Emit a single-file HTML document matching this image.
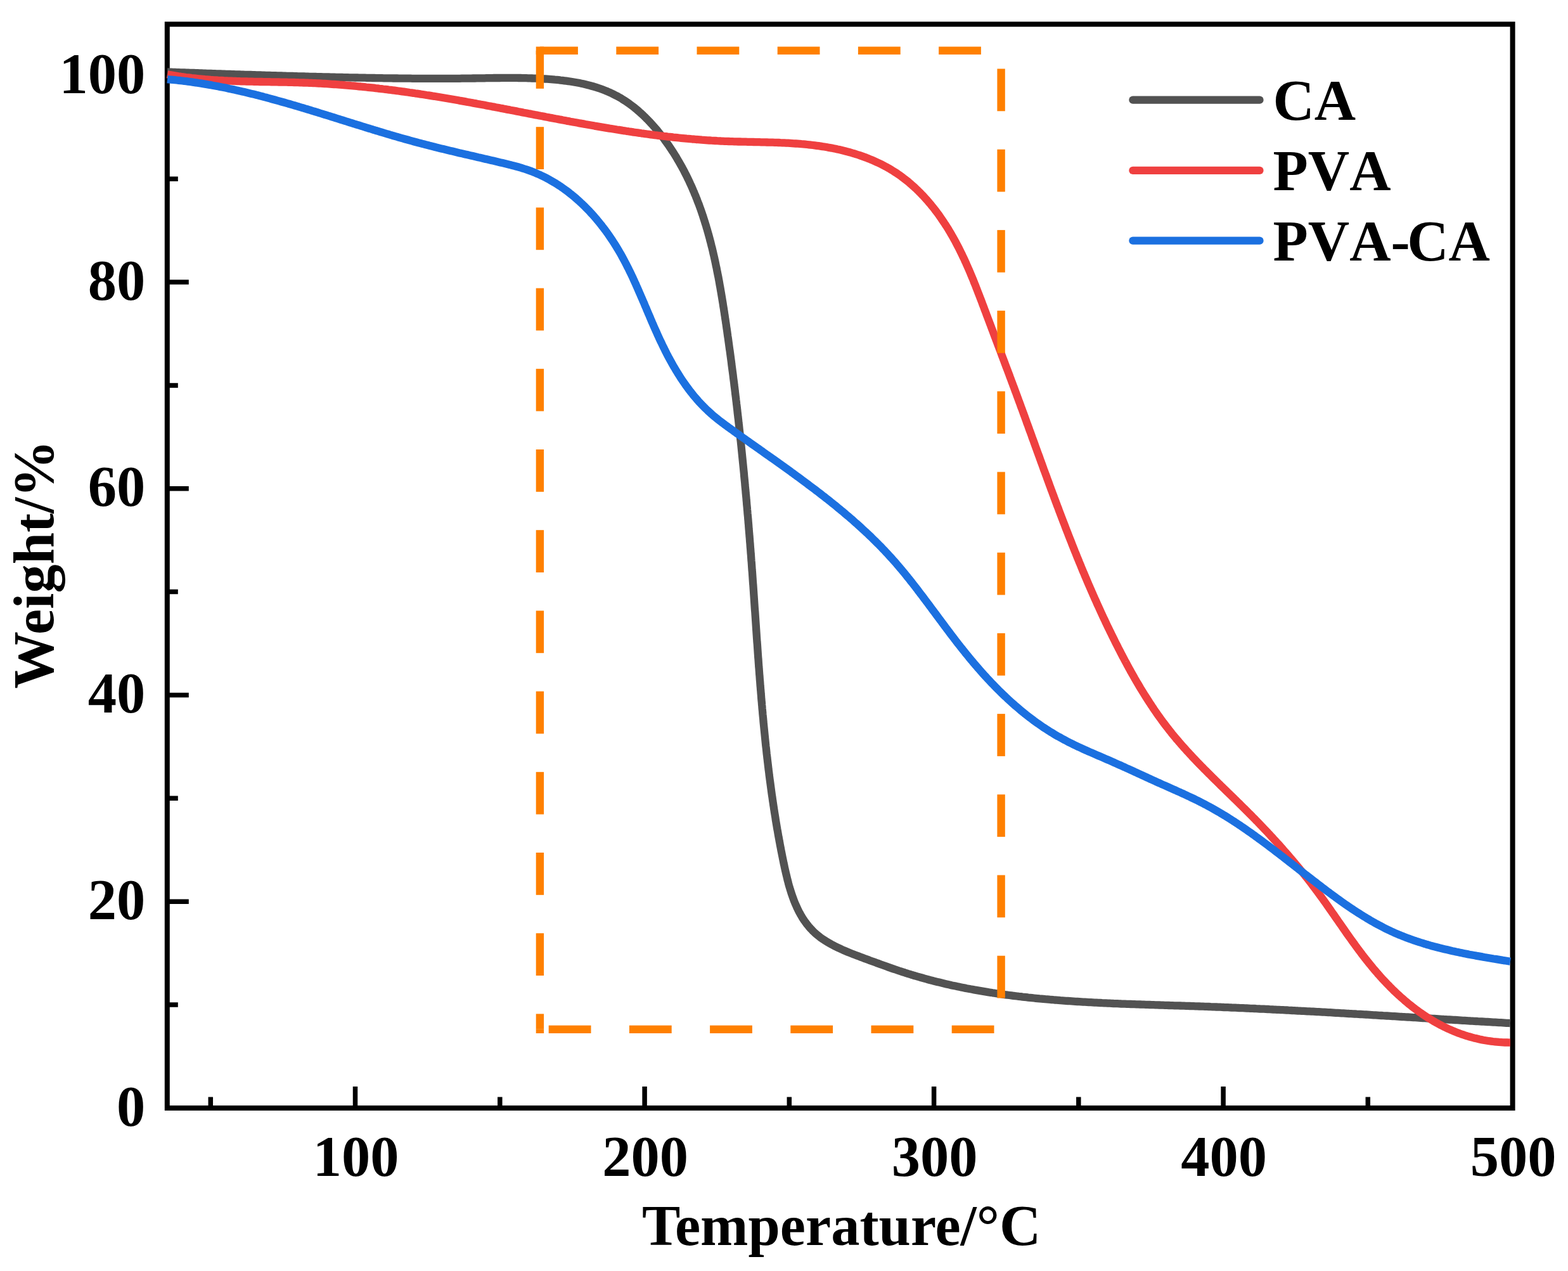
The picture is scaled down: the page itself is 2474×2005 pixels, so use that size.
<!DOCTYPE html>
<html><head><meta charset="utf-8"><title>TGA</title>
<style>html,body{margin:0;padding:0;background:#fff;} svg{display:block;}</style>
</head><body>
<svg width="2474" height="2005" viewBox="0 0 2474 2005">
<rect width="2474" height="2005" fill="#fff"/>
<rect x="263.8" y="38.2" width="2122.7999999999997" height="1709.7" fill="none" stroke="#000" stroke-width="8"/>
<path d="M560.5,1747.9 V1713.9 M1017.1,1747.9 V1713.9 M1473.6,1747.9 V1713.9 M1930.1,1747.9 V1713.9 M332.3,1747.9 V1730.4 M788.8,1747.9 V1730.4 M1245.3,1747.9 V1730.4 M1701.8,1747.9 V1730.4 M2158.3,1747.9 V1730.4 M263.8,1422.2 H297.8 M263.8,1096.5 H297.8 M263.8,770.7 H297.8 M263.8,445.0 H297.8 M263.8,119.3 H297.8 M263.8,1585.0 H280.8 M263.8,1259.3 H280.8 M263.8,933.6 H280.8 M263.8,607.9 H280.8 M263.8,282.2 H280.8" stroke="#000" stroke-width="7.5" fill="none"/>
<g fill="none" stroke-linejoin="round" stroke-linecap="butt" stroke-width="12.3">
<path stroke="#525252" d="M264.0,113.5 L267.0,113.6 L270.0,113.7 L273.0,113.9 L276.0,114.0 L279.0,114.1 L282.0,114.2 L285.0,114.3 L288.0,114.4 L291.0,114.5 L294.0,114.6 L297.0,114.7 L299.9,114.8 L302.9,114.9 L305.9,115.0 L308.9,115.1 L311.9,115.2 L314.9,115.3 L317.9,115.4 L320.9,115.6 L323.9,115.7 L326.9,115.8 L329.9,115.9 L332.9,116.0 L335.9,116.1 L338.9,116.2 L341.9,116.3 L344.9,116.4 L347.9,116.5 L350.9,116.6 L353.9,116.7 L356.9,116.8 L359.9,116.9 L362.9,117.0 L365.9,117.1 L368.9,117.2 L371.9,117.3 L374.9,117.4 L377.8,117.5 L380.8,117.6 L383.8,117.7 L386.8,117.8 L389.8,117.9 L392.8,117.9 L395.8,118.0 L398.8,118.1 L401.8,118.2 L404.8,118.3 L407.8,118.4 L410.8,118.5 L413.8,118.6 L416.8,118.7 L419.8,118.8 L422.8,118.9 L425.8,119.0 L428.8,119.1 L431.8,119.1 L434.8,119.2 L437.8,119.3 L440.8,119.4 L443.8,119.5 L446.8,119.6 L449.8,119.7 L452.8,119.8 L455.7,119.8 L458.7,119.9 L461.7,120.0 L464.7,120.1 L467.7,120.2 L470.7,120.3 L473.7,120.3 L476.7,120.4 L479.7,120.5 L482.7,120.6 L485.7,120.7 L488.7,120.8 L491.7,120.8 L494.7,120.9 L497.7,121.0 L500.7,121.1 L503.7,121.1 L506.7,121.2 L509.7,121.3 L512.7,121.4 L515.7,121.4 L518.7,121.5 L521.7,121.6 L524.7,121.7 L527.7,121.7 L530.7,121.8 L533.7,121.9 L536.7,121.9 L539.7,122.0 L542.7,122.1 L545.7,122.1 L548.7,122.2 L551.7,122.3 L554.7,122.3 L557.7,122.4 L560.7,122.5 L563.7,122.5 L566.7,122.6 L569.7,122.6 L572.7,122.7 L575.7,122.7 L578.7,122.8 L581.7,122.9 L584.7,122.9 L587.7,123.0 L590.7,123.0 L593.7,123.1 L596.7,123.1 L599.7,123.2 L602.6,123.2 L605.6,123.3 L608.6,123.3 L611.6,123.3 L614.6,123.4 L617.6,123.4 L620.6,123.5 L623.6,123.5 L626.6,123.5 L629.6,123.6 L632.6,123.6 L635.6,123.6 L638.6,123.7 L641.6,123.7 L644.6,123.7 L647.6,123.7 L650.6,123.8 L653.6,123.8 L656.6,123.8 L659.6,123.8 L662.6,123.8 L665.6,123.9 L668.6,123.9 L671.6,123.9 L674.6,123.9 L677.6,123.9 L680.6,123.9 L683.6,123.9 L686.6,123.9 L689.6,123.9 L692.6,123.9 L695.6,123.9 L698.6,123.9 L701.5,123.9 L704.5,123.9 L707.5,123.9 L710.5,123.9 L713.5,123.8 L716.5,123.8 L719.5,123.8 L722.5,123.8 L725.5,123.8 L728.5,123.7 L731.5,123.7 L734.5,123.7 L737.5,123.6 L740.5,123.6 L743.4,123.6 L746.4,123.5 L749.4,123.5 L752.4,123.4 L755.4,123.4 L758.4,123.3 L761.4,123.3 L764.4,123.3 L767.4,123.2 L770.4,123.2 L773.4,123.1 L776.3,123.1 L779.3,123.0 L782.3,123.0 L785.3,123.0 L788.3,123.0 L791.3,122.9 L794.3,122.9 L797.3,122.9 L800.3,122.9 L803.3,122.9 L806.3,122.9 L809.3,122.9 L812.3,122.9 L815.3,122.9 L818.3,123.0 L821.3,123.0 L824.3,123.1 L827.3,123.1 L830.3,123.2 L833.3,123.3 L836.3,123.4 L839.3,123.5 L842.3,123.6 L845.3,123.7 L848.3,123.8 L851.3,124.0 L854.3,124.1 L857.4,124.3 L860.4,124.5 L863.4,124.7 L866.4,124.9 L869.4,125.1 L872.5,125.4 L875.5,125.7 L878.5,125.9 L881.5,126.2 L884.5,126.6 L887.5,126.9 L890.5,127.3 L893.5,127.7 L896.5,128.1 L899.5,128.5 L902.5,129.0 L905.5,129.5 L908.4,130.0 L911.4,130.5 L914.3,131.1 L917.3,131.7 L920.2,132.3 L923.1,133.0 L926.0,133.7 L928.9,134.4 L931.8,135.2 L934.6,136.0 L937.5,136.8 L940.3,137.7 L943.2,138.6 L946.0,139.5 L948.8,140.5 L951.5,141.5 L954.3,142.6 L957.0,143.7 L959.7,144.9 L962.4,146.0 L965.1,147.3 L967.8,148.6 L970.4,149.9 L973.0,151.2 L975.6,152.7 L978.2,154.1 L980.7,155.6 L983.2,157.2 L985.7,158.8 L988.2,160.4 L990.7,162.1 L993.1,163.8 L995.5,165.6 L997.9,167.4 L1000.2,169.2 L1002.6,171.1 L1004.9,173.0 L1007.2,175.0 L1009.4,177.0 L1011.7,179.0 L1013.9,181.0 L1016.1,183.1 L1018.3,185.2 L1020.4,187.4 L1022.5,189.5 L1024.6,191.7 L1026.7,194.0 L1028.8,196.2 L1030.8,198.5 L1032.8,200.8 L1034.8,203.1 L1036.8,205.4 L1038.7,207.8 L1040.6,210.1 L1042.5,212.5 L1044.4,214.9 L1046.3,217.4 L1048.1,219.8 L1049.9,222.3 L1051.7,224.7 L1053.4,227.2 L1055.2,229.7 L1056.9,232.2 L1058.6,234.7 L1060.2,237.3 L1061.9,239.8 L1063.5,242.3 L1065.1,244.9 L1066.7,247.4 L1068.2,250.0 L1069.7,252.6 L1071.3,255.2 L1072.7,257.8 L1074.2,260.4 L1075.7,263.0 L1077.1,265.6 L1078.5,268.2 L1079.9,270.9 L1081.2,273.5 L1082.6,276.2 L1083.9,278.8 L1085.2,281.5 L1086.5,284.2 L1087.8,286.9 L1089.0,289.6 L1090.3,292.3 L1091.5,295.0 L1092.7,297.7 L1093.8,300.4 L1095.0,303.1 L1096.1,305.9 L1097.3,308.6 L1098.4,311.4 L1099.5,314.1 L1100.5,316.9 L1101.6,319.7 L1102.7,322.4 L1103.7,325.2 L1104.7,328.0 L1105.7,330.8 L1106.7,333.6 L1107.6,336.4 L1108.6,339.2 L1109.5,342.0 L1110.4,344.9 L1111.3,347.7 L1112.2,350.5 L1113.1,353.4 L1114.0,356.2 L1114.8,359.1 L1115.7,361.9 L1116.5,364.8 L1117.3,367.6 L1118.1,370.5 L1118.9,373.4 L1119.7,376.3 L1120.4,379.2 L1121.2,382.0 L1121.9,384.9 L1122.6,387.8 L1123.4,390.7 L1124.1,393.6 L1124.8,396.6 L1125.4,399.5 L1126.1,402.4 L1126.8,405.3 L1127.4,408.2 L1128.1,411.2 L1128.7,414.1 L1129.3,417.0 L1129.9,420.0 L1130.6,422.9 L1131.1,425.8 L1131.7,428.8 L1132.3,431.7 L1132.9,434.7 L1133.5,437.6 L1134.0,440.6 L1134.6,443.5 L1135.1,446.5 L1135.6,449.5 L1136.2,452.4 L1136.7,455.4 L1137.2,458.4 L1137.7,461.3 L1138.2,464.3 L1138.7,467.3 L1139.2,470.3 L1139.7,473.2 L1140.2,476.2 L1140.7,479.2 L1141.1,482.2 L1141.6,485.1 L1142.1,488.1 L1142.5,491.1 L1143.0,494.1 L1143.4,497.1 L1143.9,500.1 L1144.3,503.0 L1144.8,506.0 L1145.2,509.0 L1145.7,512.0 L1146.1,515.0 L1146.5,518.0 L1147.0,520.9 L1147.4,523.9 L1147.8,526.9 L1148.2,529.9 L1148.7,532.9 L1149.1,535.9 L1149.5,538.8 L1149.9,541.8 L1150.3,544.8 L1150.7,547.8 L1151.1,550.8 L1151.6,553.7 L1152.0,556.7 L1152.4,559.7 L1152.8,562.7 L1153.2,565.7 L1153.6,568.7 L1154.0,571.6 L1154.3,574.6 L1154.7,577.6 L1155.1,580.6 L1155.5,583.6 L1155.9,586.5 L1156.3,589.5 L1156.7,592.5 L1157.0,595.5 L1157.4,598.5 L1157.8,601.4 L1158.2,604.4 L1158.5,607.4 L1158.9,610.4 L1159.3,613.4 L1159.6,616.3 L1160.0,619.3 L1160.3,622.3 L1160.7,625.3 L1161.1,628.3 L1161.4,631.2 L1161.8,634.2 L1162.1,637.2 L1162.5,640.2 L1162.8,643.2 L1163.2,646.1 L1163.5,649.1 L1163.8,652.1 L1164.2,655.1 L1164.5,658.1 L1164.9,661.0 L1165.2,664.0 L1165.5,667.0 L1165.9,670.0 L1166.2,672.9 L1166.5,675.9 L1166.8,678.9 L1167.2,681.9 L1167.5,684.9 L1167.8,687.8 L1168.1,690.8 L1168.4,693.8 L1168.8,696.8 L1169.1,699.8 L1169.4,702.7 L1169.7,705.7 L1170.0,708.7 L1170.3,711.7 L1170.6,714.7 L1170.9,717.6 L1171.2,720.6 L1171.5,723.6 L1171.8,726.6 L1172.1,729.5 L1172.4,732.5 L1172.7,735.5 L1173.0,738.5 L1173.3,741.5 L1173.6,744.4 L1173.9,747.4 L1174.1,750.4 L1174.4,753.4 L1174.7,756.4 L1175.0,759.3 L1175.3,762.3 L1175.5,765.3 L1175.8,768.3 L1176.1,771.3 L1176.4,774.2 L1176.6,777.2 L1176.9,780.2 L1177.2,783.2 L1177.5,786.2 L1177.7,789.1 L1178.0,792.1 L1178.2,795.1 L1178.5,798.1 L1178.8,801.1 L1179.0,804.0 L1179.3,807.0 L1179.5,810.0 L1179.8,813.0 L1180.1,816.0 L1180.3,818.9 L1180.6,821.9 L1180.8,824.9 L1181.1,827.9 L1181.3,830.9 L1181.5,833.8 L1181.8,836.8 L1182.0,839.8 L1182.3,842.8 L1182.5,845.8 L1182.8,848.8 L1183.0,851.7 L1183.2,854.7 L1183.5,857.7 L1183.7,860.7 L1183.9,863.7 L1184.2,866.6 L1184.4,869.6 L1184.6,872.6 L1184.9,875.6 L1185.1,878.6 L1185.3,881.6 L1185.5,884.5 L1185.8,887.5 L1186.0,890.5 L1186.2,893.5 L1186.4,896.5 L1186.6,899.5 L1186.9,902.4 L1187.1,905.4 L1187.3,908.4 L1187.5,911.4 L1187.7,914.4 L1187.9,917.4 L1188.1,920.3 L1188.4,923.3 L1188.6,926.3 L1188.8,929.3 L1189.0,932.3 L1189.2,935.3 L1189.4,938.3 L1189.6,941.2 L1189.8,944.2 L1190.0,947.2 L1190.2,950.2 L1190.4,953.2 L1190.6,956.2 L1190.8,959.2 L1191.0,962.1 L1191.3,965.1 L1191.5,968.1 L1191.7,971.1 L1191.9,974.1 L1192.1,977.1 L1192.3,980.1 L1192.5,983.1 L1192.7,986.0 L1192.9,989.0 L1193.1,992.0 L1193.3,995.0 L1193.5,998.0 L1193.7,1001.0 L1193.9,1004.0 L1194.1,1007.0 L1194.3,1009.9 L1194.5,1012.9 L1194.8,1015.9 L1195.0,1018.9 L1195.2,1021.9 L1195.4,1024.9 L1195.6,1027.9 L1195.8,1030.9 L1196.0,1033.8 L1196.2,1036.8 L1196.5,1039.8 L1196.7,1042.8 L1196.9,1045.8 L1197.1,1048.8 L1197.3,1051.8 L1197.6,1054.8 L1197.8,1057.8 L1198.0,1060.7 L1198.2,1063.7 L1198.5,1066.7 L1198.7,1069.7 L1198.9,1072.7 L1199.2,1075.7 L1199.4,1078.7 L1199.6,1081.7 L1199.9,1084.6 L1200.1,1087.6 L1200.4,1090.6 L1200.6,1093.6 L1200.9,1096.6 L1201.1,1099.6 L1201.3,1102.6 L1201.6,1105.6 L1201.9,1108.5 L1202.1,1111.5 L1202.4,1114.5 L1202.6,1117.5 L1202.9,1120.5 L1203.2,1123.5 L1203.4,1126.5 L1203.7,1129.5 L1204.0,1132.4 L1204.3,1135.4 L1204.5,1138.4 L1204.8,1141.4 L1205.1,1144.4 L1205.4,1147.4 L1205.7,1150.4 L1206.0,1153.4 L1206.3,1156.3 L1206.6,1159.3 L1206.9,1162.3 L1207.2,1165.3 L1207.5,1168.3 L1207.8,1171.3 L1208.1,1174.3 L1208.4,1177.2 L1208.8,1180.2 L1209.1,1183.2 L1209.4,1186.2 L1209.7,1189.2 L1210.1,1192.2 L1210.4,1195.2 L1210.8,1198.1 L1211.1,1201.1 L1211.5,1204.1 L1211.8,1207.1 L1212.2,1210.1 L1212.5,1213.1 L1212.9,1216.0 L1213.3,1219.0 L1213.6,1222.0 L1214.0,1225.0 L1214.4,1228.0 L1214.8,1231.0 L1215.2,1233.9 L1215.6,1236.9 L1216.0,1239.9 L1216.4,1242.9 L1216.8,1245.9 L1217.2,1248.9 L1217.6,1251.8 L1218.0,1254.8 L1218.5,1257.8 L1218.9,1260.8 L1219.3,1263.8 L1219.8,1266.7 L1220.2,1269.7 L1220.7,1272.7 L1221.1,1275.7 L1221.6,1278.7 L1222.0,1281.6 L1222.5,1284.6 L1223.0,1287.6 L1223.5,1290.6 L1223.9,1293.6 L1224.4,1296.5 L1224.9,1299.5 L1225.4,1302.5 L1225.9,1305.5 L1226.4,1308.4 L1227.0,1311.4 L1227.5,1314.4 L1228.0,1317.4 L1228.5,1320.3 L1229.1,1323.3 L1229.6,1326.3 L1230.2,1329.3 L1230.7,1332.3 L1231.3,1335.2 L1231.9,1338.2 L1232.4,1341.2 L1233.0,1344.1 L1233.6,1347.1 L1234.2,1350.1 L1234.8,1353.1 L1235.4,1356.0 L1236.0,1359.0 L1236.6,1362.0 L1237.3,1365.0 L1237.9,1367.9 L1238.5,1370.9 L1239.2,1373.8 L1239.9,1376.8 L1240.6,1379.7 L1241.3,1382.7 L1242.0,1385.6 L1242.7,1388.5 L1243.5,1391.4 L1244.2,1394.3 L1245.0,1397.2 L1245.9,1400.1 L1246.7,1402.9 L1247.6,1405.7 L1248.5,1408.5 L1249.4,1411.3 L1250.4,1414.1 L1251.4,1416.9 L1252.4,1419.6 L1253.4,1422.3 L1254.5,1425.0 L1255.7,1427.6 L1256.8,1430.2 L1258.0,1432.8 L1259.3,1435.4 L1260.5,1437.9 L1261.9,1440.4 L1263.2,1442.9 L1264.7,1445.4 L1266.1,1447.8 L1267.6,1450.1 L1269.2,1452.5 L1270.8,1454.7 L1272.5,1457.0 L1274.2,1459.2 L1276.0,1461.4 L1277.8,1463.5 L1279.7,1465.6 L1281.6,1467.6 L1283.6,1469.6 L1285.7,1471.6 L1287.8,1473.5 L1290.0,1475.3 L1292.2,1477.1 L1294.5,1478.9 L1296.9,1480.6 L1299.3,1482.2 L1301.8,1483.8 L1304.3,1485.4 L1306.9,1486.9 L1309.5,1488.4 L1312.1,1489.9 L1314.8,1491.3 L1317.5,1492.7 L1320.3,1494.1 L1323.1,1495.4 L1325.9,1496.7 L1328.7,1498.0 L1331.6,1499.3 L1334.5,1500.5 L1337.4,1501.7 L1340.3,1502.9 L1343.3,1504.1 L1346.2,1505.2 L1349.2,1506.4 L1352.1,1507.5 L1355.1,1508.6 L1358.0,1509.7 L1361.0,1510.8 L1363.9,1511.9 L1366.9,1513.0 L1369.8,1514.1 L1372.7,1515.2 L1375.6,1516.2 L1378.6,1517.3 L1381.4,1518.3 L1384.3,1519.4 L1387.2,1520.4 L1390.1,1521.5 L1393.0,1522.5 L1395.8,1523.5 L1398.7,1524.6 L1401.5,1525.6 L1404.4,1526.6 L1407.2,1527.6 L1410.1,1528.6 L1412.9,1529.5 L1415.8,1530.5 L1418.6,1531.5 L1421.5,1532.4 L1424.3,1533.3 L1427.2,1534.2 L1430.0,1535.2 L1432.9,1536.1 L1435.7,1536.9 L1438.6,1537.8 L1441.4,1538.7 L1444.3,1539.5 L1447.2,1540.4 L1450.0,1541.2 L1452.9,1542.0 L1455.8,1542.8 L1458.6,1543.6 L1461.5,1544.4 L1464.4,1545.2 L1467.3,1546.0 L1470.2,1546.7 L1473.0,1547.5 L1475.9,1548.2 L1478.8,1548.9 L1481.7,1549.6 L1484.6,1550.3 L1487.5,1551.0 L1490.4,1551.7 L1493.3,1552.4 L1496.2,1553.1 L1499.1,1553.7 L1502.0,1554.4 L1504.9,1555.0 L1507.8,1555.6 L1510.7,1556.2 L1513.6,1556.8 L1516.5,1557.4 L1519.4,1558.0 L1522.4,1558.6 L1525.3,1559.2 L1528.2,1559.7 L1531.1,1560.3 L1534.0,1560.8 L1537.0,1561.4 L1539.9,1561.9 L1542.8,1562.4 L1545.8,1562.9 L1548.7,1563.4 L1551.6,1563.9 L1554.6,1564.4 L1557.5,1564.9 L1560.4,1565.4 L1563.4,1565.8 L1566.3,1566.3 L1569.3,1566.7 L1572.2,1567.2 L1575.1,1567.6 L1578.1,1568.0 L1581.0,1568.4 L1584.0,1568.9 L1586.9,1569.3 L1589.9,1569.7 L1592.8,1570.0 L1595.8,1570.4 L1598.8,1570.8 L1601.7,1571.2 L1604.7,1571.5 L1607.6,1571.9 L1610.6,1572.2 L1613.6,1572.6 L1616.5,1572.9 L1619.5,1573.2 L1622.5,1573.6 L1625.4,1573.9 L1628.4,1574.2 L1631.4,1574.5 L1634.3,1574.8 L1637.3,1575.1 L1640.3,1575.4 L1643.3,1575.6 L1646.2,1575.9 L1649.2,1576.2 L1652.2,1576.4 L1655.2,1576.7 L1658.2,1577.0 L1661.1,1577.2 L1664.1,1577.5 L1667.1,1577.7 L1670.1,1577.9 L1673.1,1578.2 L1676.1,1578.4 L1679.0,1578.6 L1682.0,1578.8 L1685.0,1579.0 L1688.0,1579.2 L1691.0,1579.4 L1694.0,1579.6 L1697.0,1579.8 L1700.0,1580.0 L1703.0,1580.2 L1706.0,1580.4 L1709.0,1580.6 L1711.9,1580.7 L1714.9,1580.9 L1717.9,1581.1 L1720.9,1581.2 L1723.9,1581.4 L1726.9,1581.6 L1729.9,1581.7 L1732.9,1581.9 L1735.9,1582.0 L1738.9,1582.2 L1741.9,1582.3 L1744.9,1582.4 L1747.9,1582.6 L1750.9,1582.7 L1753.9,1582.8 L1756.9,1583.0 L1759.9,1583.1 L1762.9,1583.2 L1766.0,1583.3 L1769.0,1583.5 L1772.0,1583.6 L1775.0,1583.7 L1778.0,1583.8 L1781.0,1583.9 L1784.0,1584.0 L1787.0,1584.1 L1790.0,1584.2 L1793.0,1584.3 L1796.0,1584.4 L1799.0,1584.5 L1802.0,1584.6 L1805.0,1584.7 L1808.0,1584.8 L1811.0,1584.9 L1814.1,1585.0 L1817.1,1585.1 L1820.1,1585.2 L1823.1,1585.3 L1826.1,1585.4 L1829.1,1585.5 L1832.1,1585.6 L1835.1,1585.7 L1838.1,1585.8 L1841.1,1585.9 L1844.1,1586.0 L1847.1,1586.1 L1850.1,1586.2 L1853.1,1586.3 L1856.2,1586.4 L1859.2,1586.4 L1862.2,1586.5 L1865.2,1586.6 L1868.2,1586.7 L1871.2,1586.8 L1874.2,1586.9 L1877.2,1587.0 L1880.2,1587.1 L1883.2,1587.2 L1886.2,1587.3 L1889.2,1587.4 L1892.2,1587.5 L1895.2,1587.6 L1898.2,1587.7 L1901.2,1587.8 L1904.2,1587.9 L1907.2,1588.0 L1910.2,1588.2 L1913.2,1588.3 L1916.2,1588.4 L1919.2,1588.5 L1922.2,1588.6 L1925.2,1588.7 L1928.2,1588.8 L1931.2,1589.0 L1934.2,1589.1 L1937.2,1589.2 L1940.2,1589.3 L1943.2,1589.5 L1946.2,1589.6 L1949.2,1589.7 L1952.2,1589.8 L1955.2,1590.0 L1958.2,1590.1 L1961.2,1590.2 L1964.2,1590.4 L1967.2,1590.5 L1970.2,1590.6 L1973.2,1590.8 L1976.2,1590.9 L1979.2,1591.0 L1982.1,1591.2 L1985.1,1591.3 L1988.1,1591.5 L1991.1,1591.6 L1994.1,1591.7 L1997.1,1591.9 L2000.1,1592.0 L2003.1,1592.2 L2006.1,1592.3 L2009.1,1592.5 L2012.1,1592.6 L2015.1,1592.8 L2018.0,1592.9 L2021.0,1593.1 L2024.0,1593.2 L2027.0,1593.4 L2030.0,1593.5 L2033.0,1593.7 L2036.0,1593.8 L2039.0,1594.0 L2042.0,1594.1 L2045.0,1594.3 L2047.9,1594.5 L2050.9,1594.6 L2053.9,1594.8 L2056.9,1594.9 L2059.9,1595.1 L2062.9,1595.3 L2065.9,1595.4 L2068.9,1595.6 L2071.9,1595.7 L2074.8,1595.9 L2077.8,1596.1 L2080.8,1596.2 L2083.8,1596.4 L2086.8,1596.6 L2089.8,1596.7 L2092.8,1596.9 L2095.8,1597.1 L2098.7,1597.2 L2101.7,1597.4 L2104.7,1597.6 L2107.7,1597.8 L2110.7,1597.9 L2113.7,1598.1 L2116.7,1598.3 L2119.7,1598.4 L2122.6,1598.6 L2125.6,1598.8 L2128.6,1599.0 L2131.6,1599.1 L2134.6,1599.3 L2137.6,1599.5 L2140.6,1599.7 L2143.6,1599.8 L2146.5,1600.0 L2149.5,1600.2 L2152.5,1600.4 L2155.5,1600.5 L2158.5,1600.7 L2161.5,1600.9 L2164.5,1601.1 L2167.5,1601.3 L2170.4,1601.4 L2173.4,1601.6 L2176.4,1601.8 L2179.4,1602.0 L2182.4,1602.2 L2185.4,1602.3 L2188.4,1602.5 L2191.4,1602.7 L2194.4,1602.9 L2197.3,1603.1 L2200.3,1603.2 L2203.3,1603.4 L2206.3,1603.6 L2209.3,1603.8 L2212.3,1604.0 L2215.3,1604.1 L2218.3,1604.3 L2221.3,1604.5 L2224.3,1604.7 L2227.2,1604.9 L2230.2,1605.1 L2233.2,1605.2 L2236.2,1605.4 L2239.2,1605.6 L2242.2,1605.8 L2245.2,1606.0 L2248.2,1606.1 L2251.2,1606.3 L2254.2,1606.5 L2257.2,1606.7 L2260.2,1606.9 L2263.1,1607.0 L2266.1,1607.2 L2269.1,1607.4 L2272.1,1607.6 L2275.1,1607.8 L2278.1,1608.0 L2281.1,1608.1 L2284.1,1608.3 L2287.1,1608.5 L2290.1,1608.7 L2293.1,1608.9 L2296.1,1609.0 L2299.1,1609.2 L2302.1,1609.4 L2305.1,1609.6 L2308.1,1609.8 L2311.1,1609.9 L2314.1,1610.1 L2317.1,1610.3 L2320.1,1610.5 L2323.1,1610.6 L2326.1,1610.8 L2329.1,1611.0 L2332.1,1611.2 L2335.1,1611.3 L2338.1,1611.5 L2341.1,1611.7 L2344.1,1611.9 L2347.1,1612.0 L2350.1,1612.2 L2353.1,1612.4 L2356.1,1612.6 L2359.1,1612.7 L2362.1,1612.9 L2365.1,1613.1 L2368.1,1613.2 L2371.1,1613.4 L2374.1,1613.6 L2377.1,1613.8 L2380.1,1613.9 L2383.0,1614.1"/>
<path stroke="#EF4040" d="M264.0,117.2 L266.8,117.8 L269.8,118.3 L272.7,118.8 L275.7,119.3 L278.7,119.8 L281.6,120.3 L284.6,120.7 L287.6,121.2 L290.5,121.6 L293.5,122.0 L296.5,122.3 L299.5,122.7 L302.4,123.1 L305.4,123.4 L308.4,123.7 L311.4,124.0 L314.4,124.3 L317.3,124.6 L320.3,124.9 L323.3,125.2 L326.3,125.4 L329.3,125.6 L332.3,125.9 L335.2,126.1 L338.2,126.3 L341.2,126.5 L344.2,126.7 L347.2,126.8 L350.2,127.0 L353.2,127.2 L356.2,127.3 L359.2,127.5 L362.1,127.6 L365.1,127.7 L368.1,127.8 L371.1,127.9 L374.1,128.1 L377.1,128.2 L380.1,128.3 L383.1,128.3 L386.1,128.4 L389.1,128.5 L392.1,128.6 L395.1,128.7 L398.1,128.7 L401.1,128.8 L404.1,128.8 L407.1,128.9 L410.1,129.0 L413.1,129.0 L416.1,129.1 L419.1,129.1 L422.1,129.2 L425.1,129.2 L428.1,129.3 L431.1,129.3 L434.1,129.4 L437.1,129.4 L440.1,129.5 L443.1,129.6 L446.1,129.6 L449.1,129.7 L452.1,129.7 L455.1,129.8 L458.1,129.9 L461.1,129.9 L464.1,130.0 L467.1,130.1 L470.1,130.2 L473.1,130.3 L476.1,130.4 L479.1,130.5 L482.1,130.6 L485.1,130.7 L488.1,130.8 L491.1,130.9 L494.1,131.1 L497.1,131.2 L500.1,131.4 L503.1,131.5 L506.1,131.7 L509.1,131.9 L512.1,132.0 L515.1,132.2 L518.1,132.4 L521.0,132.6 L524.0,132.8 L527.0,133.0 L530.0,133.2 L533.0,133.4 L536.0,133.7 L539.0,133.9 L542.0,134.1 L545.0,134.4 L548.0,134.6 L551.0,134.9 L554.0,135.2 L556.9,135.4 L559.9,135.7 L562.9,136.0 L565.9,136.3 L568.9,136.5 L571.9,136.8 L574.9,137.1 L577.9,137.5 L580.8,137.8 L583.8,138.1 L586.8,138.4 L589.8,138.7 L592.8,139.1 L595.7,139.4 L598.7,139.8 L601.7,140.1 L604.7,140.5 L607.7,140.8 L610.6,141.2 L613.6,141.6 L616.6,141.9 L619.6,142.3 L622.6,142.7 L625.5,143.1 L628.5,143.5 L631.5,143.9 L634.5,144.3 L637.4,144.7 L640.4,145.1 L643.4,145.5 L646.3,146.0 L649.3,146.4 L652.3,146.8 L655.2,147.3 L658.2,147.7 L661.2,148.1 L664.1,148.6 L667.1,149.0 L670.1,149.5 L673.0,150.0 L676.0,150.4 L679.0,150.9 L681.9,151.4 L684.9,151.8 L687.8,152.3 L690.8,152.8 L693.8,153.3 L696.7,153.8 L699.7,154.3 L702.6,154.8 L705.6,155.3 L708.5,155.8 L711.5,156.3 L714.4,156.8 L717.4,157.3 L720.3,157.8 L723.3,158.3 L726.2,158.9 L729.2,159.4 L732.1,159.9 L735.1,160.4 L738.0,161.0 L741.0,161.5 L743.9,162.0 L746.9,162.6 L749.8,163.1 L752.8,163.7 L755.7,164.2 L758.7,164.8 L761.6,165.3 L764.6,165.8 L767.5,166.4 L770.4,167.0 L773.4,167.5 L776.3,168.1 L779.3,168.6 L782.2,169.2 L785.2,169.7 L788.1,170.3 L791.0,170.9 L794.0,171.4 L796.9,172.0 L799.9,172.6 L802.8,173.1 L805.7,173.7 L808.7,174.2 L811.6,174.8 L814.6,175.4 L817.5,176.0 L820.4,176.5 L823.4,177.1 L826.3,177.7 L829.3,178.2 L832.2,178.8 L835.1,179.4 L838.1,179.9 L841.0,180.5 L844.0,181.1 L846.9,181.6 L849.8,182.2 L852.8,182.8 L855.7,183.3 L858.7,183.9 L861.6,184.5 L864.5,185.0 L867.5,185.6 L870.4,186.1 L873.4,186.7 L876.3,187.3 L879.2,187.8 L882.2,188.4 L885.1,188.9 L888.1,189.5 L891.0,190.0 L893.9,190.6 L896.9,191.1 L899.8,191.7 L902.8,192.2 L905.7,192.8 L908.7,193.3 L911.6,193.8 L914.5,194.4 L917.5,194.9 L920.4,195.4 L923.4,196.0 L926.3,196.5 L929.3,197.0 L932.2,197.5 L935.2,198.0 L938.1,198.6 L941.1,199.1 L944.0,199.6 L947.0,200.1 L949.9,200.6 L952.9,201.1 L955.8,201.6 L958.8,202.1 L961.7,202.6 L964.7,203.0 L967.6,203.5 L970.6,204.0 L973.5,204.5 L976.5,204.9 L979.4,205.4 L982.4,205.9 L985.3,206.3 L988.3,206.8 L991.3,207.2 L994.2,207.7 L997.2,208.1 L1000.1,208.6 L1003.1,209.0 L1006.1,209.4 L1009.0,209.8 L1012.0,210.3 L1015.0,210.7 L1017.9,211.1 L1020.9,211.5 L1023.9,211.9 L1026.8,212.3 L1029.8,212.7 L1032.8,213.1 L1035.7,213.4 L1038.7,213.8 L1041.7,214.2 L1044.7,214.5 L1047.6,214.9 L1050.6,215.2 L1053.6,215.6 L1056.6,215.9 L1059.6,216.2 L1062.5,216.6 L1065.5,216.9 L1068.5,217.2 L1071.5,217.5 L1074.5,217.8 L1077.5,218.1 L1080.5,218.4 L1083.4,218.7 L1086.4,218.9 L1089.4,219.2 L1092.4,219.5 L1095.4,219.7 L1098.4,220.0 L1101.4,220.2 L1104.4,220.4 L1107.4,220.7 L1110.4,220.9 L1113.4,221.1 L1116.4,221.3 L1119.4,221.5 L1122.4,221.7 L1125.4,221.8 L1128.5,222.0 L1131.5,222.2 L1134.5,222.3 L1137.5,222.5 L1140.5,222.6 L1143.5,222.8 L1146.5,222.9 L1149.6,223.0 L1152.6,223.1 L1155.6,223.2 L1158.6,223.3 L1161.7,223.4 L1164.7,223.5 L1167.7,223.5 L1170.7,223.6 L1173.8,223.7 L1176.8,223.7 L1179.8,223.8 L1182.9,223.9 L1185.9,223.9 L1188.9,224.0 L1192.0,224.1 L1195.0,224.1 L1198.0,224.2 L1201.1,224.3 L1204.1,224.3 L1207.1,224.4 L1210.2,224.5 L1213.2,224.6 L1216.2,224.6 L1219.3,224.7 L1222.3,224.8 L1225.3,224.9 L1228.4,225.0 L1231.4,225.2 L1234.4,225.3 L1237.4,225.4 L1240.5,225.6 L1243.5,225.7 L1246.5,225.9 L1249.5,226.1 L1252.6,226.3 L1255.6,226.5 L1258.6,226.7 L1261.6,226.9 L1264.6,227.2 L1267.6,227.4 L1270.6,227.7 L1273.6,228.0 L1276.6,228.3 L1279.7,228.7 L1282.7,229.0 L1285.6,229.4 L1288.6,229.8 L1291.6,230.2 L1294.6,230.6 L1297.6,231.1 L1300.6,231.5 L1303.6,232.0 L1306.5,232.6 L1309.5,233.1 L1312.5,233.6 L1315.4,234.2 L1318.4,234.8 L1321.3,235.5 L1324.2,236.1 L1327.2,236.8 L1330.1,237.5 L1333.0,238.2 L1335.9,239.0 L1338.8,239.7 L1341.7,240.5 L1344.5,241.4 L1347.4,242.2 L1350.2,243.1 L1353.1,244.0 L1355.9,244.9 L1358.7,245.9 L1361.5,246.9 L1364.3,247.9 L1367.1,248.9 L1369.8,250.0 L1372.6,251.1 L1375.3,252.2 L1378.0,253.4 L1380.7,254.6 L1383.4,255.8 L1386.0,257.0 L1388.7,258.3 L1391.3,259.6 L1393.9,260.9 L1396.5,262.3 L1399.1,263.7 L1401.6,265.1 L1404.1,266.6 L1406.7,268.1 L1409.1,269.6 L1411.6,271.2 L1414.1,272.8 L1416.5,274.4 L1418.9,276.1 L1421.3,277.8 L1423.6,279.5 L1426.0,281.3 L1428.3,283.1 L1430.6,284.9 L1432.9,286.7 L1435.1,288.6 L1437.3,290.5 L1439.5,292.5 L1441.7,294.4 L1443.9,296.4 L1446.0,298.4 L1448.2,300.5 L1450.3,302.6 L1452.4,304.7 L1454.4,306.8 L1456.5,308.9 L1458.5,311.1 L1460.5,313.3 L1462.5,315.5 L1464.4,317.7 L1466.3,320.0 L1468.3,322.3 L1470.1,324.6 L1472.0,326.9 L1473.9,329.3 L1475.7,331.6 L1477.5,334.0 L1479.3,336.4 L1481.1,338.8 L1482.8,341.3 L1484.5,343.7 L1486.2,346.2 L1487.9,348.7 L1489.6,351.2 L1491.2,353.7 L1492.9,356.2 L1494.5,358.7 L1496.1,361.3 L1497.6,363.9 L1499.2,366.5 L1500.7,369.1 L1502.2,371.7 L1503.7,374.3 L1505.1,376.9 L1506.6,379.5 L1508.0,382.2 L1509.4,384.9 L1510.8,387.5 L1512.2,390.2 L1513.6,392.9 L1514.9,395.6 L1516.3,398.3 L1517.6,401.0 L1518.9,403.8 L1520.2,406.5 L1521.5,409.2 L1522.7,412.0 L1524.0,414.7 L1525.2,417.5 L1526.5,420.3 L1527.7,423.1 L1528.9,425.8 L1530.1,428.6 L1531.3,431.4 L1532.4,434.2 L1533.6,437.0 L1534.8,439.8 L1535.9,442.6 L1537.0,445.5 L1538.2,448.3 L1539.3,451.1 L1540.4,453.9 L1541.5,456.7 L1542.6,459.6 L1543.7,462.4 L1544.8,465.2 L1545.9,468.1 L1547.0,470.9 L1548.1,473.7 L1549.2,476.6 L1550.2,479.4 L1551.3,482.2 L1552.4,485.1 L1553.4,487.9 L1554.5,490.7 L1555.6,493.6 L1556.6,496.4 L1557.7,499.2 L1558.7,502.0 L1559.8,504.9 L1560.9,507.7 L1561.9,510.5 L1563.0,513.3 L1564.0,516.1 L1565.1,518.9 L1566.2,521.7 L1567.2,524.6 L1568.3,527.4 L1569.3,530.2 L1570.4,533.0 L1571.4,535.8 L1572.5,538.6 L1573.6,541.4 L1574.6,544.2 L1575.7,547.0 L1576.7,549.8 L1577.8,552.5 L1578.8,555.3 L1579.9,558.1 L1580.9,560.9 L1582.0,563.7 L1583.0,566.5 L1584.1,569.3 L1585.1,572.1 L1586.2,574.9 L1587.2,577.7 L1588.3,580.5 L1589.3,583.2 L1590.4,586.0 L1591.4,588.8 L1592.5,591.6 L1593.5,594.4 L1594.6,597.2 L1595.6,600.0 L1596.6,602.8 L1597.7,605.6 L1598.7,608.3 L1599.8,611.1 L1600.8,613.9 L1601.8,616.7 L1602.9,619.5 L1603.9,622.3 L1604.9,625.1 L1606.0,627.9 L1607.0,630.7 L1608.0,633.5 L1609.1,636.3 L1610.1,639.1 L1611.1,641.9 L1612.2,644.7 L1613.2,647.5 L1614.2,650.3 L1615.2,653.1 L1616.3,655.9 L1617.3,658.7 L1618.3,661.5 L1619.3,664.3 L1620.3,667.2 L1621.4,670.0 L1622.4,672.8 L1623.4,675.6 L1624.4,678.4 L1625.5,681.2 L1626.5,684.0 L1627.5,686.8 L1628.5,689.7 L1629.5,692.5 L1630.6,695.3 L1631.6,698.1 L1632.6,700.9 L1633.6,703.7 L1634.6,706.5 L1635.7,709.4 L1636.7,712.2 L1637.7,715.0 L1638.7,717.8 L1639.8,720.6 L1640.8,723.5 L1641.8,726.3 L1642.8,729.1 L1643.9,731.9 L1644.9,734.7 L1645.9,737.6 L1646.9,740.4 L1648.0,743.2 L1649.0,746.0 L1650.0,748.8 L1651.1,751.6 L1652.1,754.5 L1653.1,757.3 L1654.2,760.1 L1655.2,762.9 L1656.2,765.7 L1657.3,768.6 L1658.3,771.4 L1659.4,774.2 L1660.4,777.0 L1661.4,779.8 L1662.5,782.6 L1663.5,785.5 L1664.6,788.3 L1665.6,791.1 L1666.7,793.9 L1667.7,796.7 L1668.8,799.5 L1669.9,802.3 L1670.9,805.2 L1672.0,808.0 L1673.0,810.8 L1674.1,813.6 L1675.2,816.4 L1676.3,819.2 L1677.3,822.0 L1678.4,824.8 L1679.5,827.6 L1680.6,830.4 L1681.6,833.2 L1682.7,836.0 L1683.8,838.8 L1684.9,841.6 L1686.0,844.4 L1687.1,847.2 L1688.2,850.0 L1689.3,852.8 L1690.4,855.6 L1691.5,858.4 L1692.6,861.2 L1693.7,864.0 L1694.8,866.8 L1695.9,869.6 L1697.1,872.4 L1698.2,875.1 L1699.3,877.9 L1700.4,880.7 L1701.6,883.5 L1702.7,886.3 L1703.9,889.1 L1705.0,891.8 L1706.1,894.6 L1707.3,897.4 L1708.4,900.2 L1709.6,902.9 L1710.8,905.7 L1711.9,908.5 L1713.1,911.2 L1714.3,914.0 L1715.4,916.8 L1716.6,919.5 L1717.8,922.3 L1719.0,925.0 L1720.2,927.8 L1721.4,930.5 L1722.6,933.3 L1723.8,936.0 L1725.0,938.8 L1726.2,941.5 L1727.4,944.3 L1728.7,947.0 L1729.9,949.7 L1731.1,952.5 L1732.3,955.2 L1733.6,957.9 L1734.8,960.7 L1736.1,963.4 L1737.3,966.1 L1738.6,968.8 L1739.8,971.6 L1741.1,974.3 L1742.4,977.0 L1743.7,979.7 L1744.9,982.4 L1746.2,985.1 L1747.5,987.8 L1748.8,990.5 L1750.1,993.2 L1751.4,995.9 L1752.8,998.6 L1754.1,1001.3 L1755.4,1004.0 L1756.7,1006.7 L1758.1,1009.4 L1759.4,1012.1 L1760.7,1014.7 L1762.1,1017.4 L1763.5,1020.1 L1764.8,1022.8 L1766.2,1025.4 L1767.6,1028.1 L1768.9,1030.7 L1770.3,1033.4 L1771.7,1036.1 L1773.1,1038.7 L1774.5,1041.3 L1775.9,1044.0 L1777.4,1046.6 L1778.8,1049.3 L1780.2,1051.9 L1781.6,1054.5 L1783.1,1057.1 L1784.5,1059.8 L1786.0,1062.4 L1787.5,1065.0 L1789.0,1067.6 L1790.4,1070.2 L1791.9,1072.8 L1793.4,1075.4 L1795.0,1078.0 L1796.5,1080.5 L1798.0,1083.1 L1799.5,1085.7 L1801.1,1088.2 L1802.6,1090.8 L1804.2,1093.3 L1805.8,1095.9 L1807.4,1098.4 L1809.0,1100.9 L1810.6,1103.4 L1812.2,1105.9 L1813.8,1108.4 L1815.5,1110.9 L1817.1,1113.4 L1818.8,1115.9 L1820.4,1118.4 L1822.1,1120.9 L1823.8,1123.3 L1825.5,1125.8 L1827.2,1128.2 L1829.0,1130.6 L1830.7,1133.0 L1832.5,1135.5 L1834.2,1137.9 L1836.0,1140.3 L1837.8,1142.6 L1839.6,1145.0 L1841.4,1147.4 L1843.3,1149.7 L1845.1,1152.1 L1847.0,1154.4 L1848.8,1156.8 L1850.7,1159.1 L1852.6,1161.4 L1854.5,1163.7 L1856.4,1166.0 L1858.4,1168.2 L1860.3,1170.5 L1862.3,1172.8 L1864.2,1175.0 L1866.2,1177.3 L1868.2,1179.5 L1870.2,1181.7 L1872.2,1184.0 L1874.3,1186.2 L1876.3,1188.4 L1878.3,1190.6 L1880.4,1192.8 L1882.4,1195.0 L1884.5,1197.2 L1886.6,1199.3 L1888.6,1201.5 L1890.7,1203.7 L1892.8,1205.8 L1894.9,1208.0 L1897.0,1210.1 L1899.1,1212.3 L1901.2,1214.4 L1903.4,1216.5 L1905.5,1218.7 L1907.6,1220.8 L1909.8,1222.9 L1911.9,1225.1 L1914.0,1227.2 L1916.2,1229.3 L1918.3,1231.4 L1920.5,1233.5 L1922.6,1235.6 L1924.8,1237.7 L1926.9,1239.9 L1929.1,1242.0 L1931.3,1244.1 L1933.4,1246.2 L1935.6,1248.3 L1937.7,1250.4 L1939.9,1252.5 L1942.1,1254.6 L1944.2,1256.7 L1946.4,1258.8 L1948.5,1260.9 L1950.7,1263.0 L1952.8,1265.1 L1955.0,1267.2 L1957.1,1269.3 L1959.3,1271.5 L1961.4,1273.6 L1963.6,1275.7 L1965.7,1277.8 L1967.8,1279.9 L1969.9,1282.1 L1972.1,1284.2 L1974.2,1286.3 L1976.3,1288.5 L1978.4,1290.6 L1980.5,1292.7 L1982.6,1294.9 L1984.7,1297.0 L1986.8,1299.2 L1988.8,1301.4 L1990.9,1303.5 L1993.0,1305.7 L1995.1,1307.9 L1997.1,1310.0 L1999.2,1312.2 L2001.2,1314.4 L2003.3,1316.6 L2005.3,1318.8 L2007.3,1321.0 L2009.3,1323.2 L2011.4,1325.4 L2013.4,1327.6 L2015.4,1329.8 L2017.4,1332.0 L2019.4,1334.2 L2021.4,1336.5 L2023.4,1338.7 L2025.3,1340.9 L2027.3,1343.2 L2029.3,1345.4 L2031.2,1347.7 L2033.2,1349.9 L2035.1,1352.2 L2037.1,1354.5 L2039.0,1356.7 L2040.9,1359.0 L2042.9,1361.3 L2044.8,1363.6 L2046.7,1365.9 L2048.6,1368.2 L2050.5,1370.5 L2052.4,1372.8 L2054.2,1375.1 L2056.1,1377.5 L2058.0,1379.8 L2059.8,1382.1 L2061.7,1384.5 L2063.5,1386.8 L2065.4,1389.2 L2067.2,1391.5 L2069.0,1393.9 L2070.8,1396.3 L2072.6,1398.7 L2074.5,1401.1 L2076.2,1403.5 L2078.0,1405.9 L2079.8,1408.3 L2081.6,1410.7 L2083.3,1413.1 L2085.1,1415.5 L2086.9,1418.0 L2088.6,1420.4 L2090.4,1422.9 L2092.1,1425.3 L2093.8,1427.8 L2095.6,1430.2 L2097.3,1432.7 L2099.0,1435.1 L2100.7,1437.6 L2102.4,1440.1 L2104.2,1442.5 L2105.9,1445.0 L2107.6,1447.5 L2109.3,1449.9 L2111.0,1452.4 L2112.7,1454.9 L2114.5,1457.4 L2116.2,1459.8 L2117.9,1462.3 L2119.6,1464.8 L2121.4,1467.2 L2123.1,1469.7 L2124.8,1472.2 L2126.5,1474.6 L2128.3,1477.1 L2130.0,1479.5 L2131.8,1482.0 L2133.5,1484.4 L2135.3,1486.9 L2137.1,1489.3 L2138.8,1491.7 L2140.6,1494.2 L2142.4,1496.6 L2144.2,1499.0 L2146.0,1501.4 L2147.8,1503.8 L2149.6,1506.2 L2151.5,1508.6 L2153.3,1511.0 L2155.2,1513.3 L2157.0,1515.7 L2158.9,1518.0 L2160.8,1520.4 L2162.7,1522.7 L2164.6,1525.0 L2166.5,1527.3 L2168.4,1529.6 L2170.4,1531.9 L2172.4,1534.2 L2174.3,1536.5 L2176.3,1538.7 L2178.3,1541.0 L2180.3,1543.2 L2182.4,1545.4 L2184.4,1547.6 L2186.5,1549.8 L2188.6,1552.0 L2190.7,1554.1 L2192.8,1556.3 L2194.9,1558.4 L2197.0,1560.5 L2199.1,1562.6 L2201.3,1564.6 L2203.5,1566.7 L2205.7,1568.7 L2207.9,1570.8 L2210.1,1572.8 L2212.3,1574.7 L2214.6,1576.7 L2216.8,1578.7 L2219.1,1580.6 L2221.4,1582.5 L2223.7,1584.4 L2226.0,1586.2 L2228.4,1588.1 L2230.7,1589.9 L2233.1,1591.7 L2235.5,1593.4 L2237.9,1595.2 L2240.3,1596.9 L2242.7,1598.6 L2245.2,1600.3 L2247.6,1602.0 L2250.1,1603.6 L2252.6,1605.2 L2255.1,1606.8 L2257.6,1608.3 L2260.1,1609.8 L2262.7,1611.3 L2265.2,1612.8 L2267.8,1614.2 L2270.4,1615.6 L2273.0,1617.0 L2275.7,1618.4 L2278.3,1619.7 L2281.0,1621.0 L2283.6,1622.3 L2286.3,1623.5 L2289.0,1624.7 L2291.8,1625.9 L2294.5,1627.0 L2297.2,1628.1 L2300.0,1629.2 L2302.8,1630.3 L2305.6,1631.3 L2308.4,1632.2 L2311.3,1633.2 L2314.1,1634.1 L2317.0,1635.0 L2319.9,1635.8 L2322.8,1636.6 L2325.7,1637.4 L2328.6,1638.1 L2331.6,1638.8 L2334.5,1639.5 L2337.5,1640.1 L2340.5,1640.7 L2343.5,1641.2 L2346.6,1641.7 L2349.6,1642.2 L2352.7,1642.6 L2355.8,1643.0 L2358.9,1643.3 L2362.0,1643.6 L2365.1,1643.9 L2368.3,1644.1 L2371.5,1644.3 L2374.6,1644.5 L2377.9,1644.5 L2381.1,1644.6 L2383.0,1644.6"/>
<path stroke="#1B70E0" d="M264.0,125.1 L266.7,125.4 L269.7,125.6 L272.7,125.9 L275.8,126.2 L278.8,126.5 L281.8,126.8 L284.8,127.2 L287.8,127.5 L290.8,127.9 L293.8,128.2 L296.7,128.6 L299.7,129.0 L302.7,129.4 L305.7,129.9 L308.7,130.3 L311.6,130.7 L314.6,131.2 L317.6,131.6 L320.5,132.1 L323.5,132.6 L326.5,133.1 L329.4,133.6 L332.4,134.1 L335.3,134.7 L338.3,135.2 L341.2,135.7 L344.2,136.3 L347.1,136.9 L350.1,137.5 L353.0,138.0 L355.9,138.6 L358.9,139.2 L361.8,139.9 L364.7,140.5 L367.7,141.1 L370.6,141.8 L373.5,142.4 L376.4,143.1 L379.4,143.7 L382.3,144.4 L385.2,145.1 L388.1,145.8 L391.0,146.5 L393.9,147.2 L396.8,147.9 L399.7,148.6 L402.7,149.3 L405.6,150.1 L408.5,150.8 L411.4,151.6 L414.3,152.3 L417.2,153.1 L420.0,153.8 L422.9,154.6 L425.8,155.4 L428.7,156.2 L431.6,157.0 L434.5,157.8 L437.4,158.6 L440.3,159.4 L443.2,160.2 L446.0,161.0 L448.9,161.8 L451.8,162.6 L454.7,163.5 L457.6,164.3 L460.4,165.1 L463.3,166.0 L466.2,166.8 L469.1,167.7 L471.9,168.5 L474.8,169.4 L477.7,170.2 L480.6,171.1 L483.4,172.0 L486.3,172.8 L489.2,173.7 L492.0,174.6 L494.9,175.5 L497.8,176.3 L500.6,177.2 L503.5,178.1 L506.4,179.0 L509.2,179.9 L512.1,180.8 L515.0,181.6 L517.8,182.5 L520.7,183.4 L523.6,184.3 L526.4,185.2 L529.3,186.1 L532.1,187.0 L535.0,187.9 L537.9,188.8 L540.7,189.7 L543.6,190.6 L546.5,191.5 L549.3,192.4 L552.2,193.3 L555.1,194.2 L557.9,195.1 L560.8,196.0 L563.6,196.8 L566.5,197.7 L569.4,198.6 L572.2,199.5 L575.1,200.4 L578.0,201.3 L580.8,202.2 L583.7,203.0 L586.6,203.9 L589.4,204.8 L592.3,205.7 L595.2,206.5 L598.0,207.4 L600.9,208.3 L603.8,209.1 L606.6,210.0 L609.5,210.9 L612.4,211.7 L615.3,212.6 L618.1,213.4 L621.0,214.3 L623.9,215.1 L626.8,215.9 L629.6,216.8 L632.5,217.6 L635.4,218.4 L638.3,219.2 L641.2,220.0 L644.1,220.8 L646.9,221.6 L649.8,222.4 L652.7,223.2 L655.6,224.0 L658.5,224.8 L661.4,225.6 L664.3,226.3 L667.2,227.1 L670.1,227.8 L673.0,228.6 L675.9,229.3 L678.8,230.1 L681.7,230.8 L684.6,231.5 L687.5,232.3 L690.4,233.0 L693.3,233.7 L696.2,234.4 L699.1,235.1 L702.0,235.8 L704.9,236.5 L707.8,237.2 L710.8,237.9 L713.7,238.6 L716.6,239.3 L719.5,240.0 L722.4,240.7 L725.3,241.4 L728.3,242.1 L731.2,242.7 L734.1,243.4 L737.0,244.1 L740.0,244.8 L742.9,245.4 L745.8,246.1 L748.7,246.8 L751.7,247.5 L754.6,248.2 L757.5,248.8 L760.5,249.5 L763.4,250.2 L766.3,250.9 L769.3,251.5 L772.2,252.2 L775.1,252.9 L778.1,253.6 L781.0,254.3 L784.0,255.0 L786.9,255.7 L789.8,256.4 L792.8,257.1 L795.7,257.8 L798.7,258.5 L801.6,259.2 L804.5,259.9 L807.5,260.7 L810.4,261.4 L813.3,262.2 L816.2,263.0 L819.1,263.8 L822.0,264.7 L824.8,265.6 L827.7,266.5 L830.5,267.4 L833.4,268.4 L836.2,269.4 L839.0,270.4 L841.7,271.5 L844.5,272.6 L847.2,273.8 L849.9,275.0 L852.6,276.2 L855.3,277.5 L858.0,278.8 L860.6,280.1 L863.3,281.5 L865.9,282.9 L868.4,284.3 L871.0,285.8 L873.6,287.3 L876.1,288.8 L878.6,290.4 L881.1,292.0 L883.6,293.6 L886.0,295.3 L888.5,297.0 L890.9,298.7 L893.3,300.4 L895.6,302.2 L898.0,304.0 L900.3,305.9 L902.6,307.7 L904.9,309.6 L907.2,311.5 L909.5,313.5 L911.7,315.5 L913.9,317.4 L916.1,319.5 L918.3,321.5 L920.5,323.6 L922.6,325.7 L924.7,327.8 L926.8,329.9 L928.9,332.1 L931.0,334.3 L933.0,336.5 L935.0,338.7 L937.0,340.9 L939.0,343.2 L941.0,345.5 L942.9,347.8 L944.8,350.1 L946.7,352.5 L948.6,354.8 L950.4,357.2 L952.3,359.6 L954.1,362.0 L955.9,364.4 L957.7,366.9 L959.4,369.3 L961.1,371.8 L962.8,374.3 L964.5,376.8 L966.2,379.3 L967.8,381.8 L969.5,384.4 L971.1,386.9 L972.7,389.5 L974.2,392.0 L975.8,394.6 L977.3,397.2 L978.8,399.8 L980.3,402.4 L981.7,405.0 L983.2,407.7 L984.6,410.3 L986.0,413.0 L987.4,415.6 L988.8,418.3 L990.1,421.0 L991.5,423.6 L992.8,426.3 L994.1,429.0 L995.4,431.7 L996.7,434.4 L998.0,437.1 L999.2,439.8 L1000.5,442.6 L1001.7,445.3 L1003.0,448.0 L1004.2,450.8 L1005.4,453.5 L1006.6,456.2 L1007.8,459.0 L1009.0,461.8 L1010.2,464.5 L1011.4,467.3 L1012.6,470.0 L1013.8,472.8 L1015.0,475.6 L1016.2,478.3 L1017.3,481.1 L1018.5,483.9 L1019.7,486.6 L1020.8,489.4 L1022.0,492.2 L1023.2,494.9 L1024.4,497.7 L1025.6,500.5 L1026.7,503.2 L1027.9,506.0 L1029.1,508.8 L1030.3,511.5 L1031.5,514.3 L1032.7,517.1 L1033.9,519.8 L1035.2,522.6 L1036.4,525.3 L1037.6,528.1 L1038.9,530.8 L1040.1,533.6 L1041.4,536.3 L1042.7,539.0 L1044.0,541.7 L1045.3,544.5 L1046.6,547.2 L1048.0,549.9 L1049.3,552.6 L1050.7,555.3 L1052.0,558.0 L1053.4,560.7 L1054.8,563.3 L1056.3,566.0 L1057.7,568.6 L1059.2,571.3 L1060.6,573.9 L1062.1,576.6 L1063.7,579.2 L1065.2,581.8 L1066.7,584.3 L1068.3,586.9 L1069.9,589.5 L1071.5,592.0 L1073.1,594.6 L1074.7,597.1 L1076.4,599.6 L1078.1,602.1 L1079.8,604.5 L1081.5,607.0 L1083.2,609.4 L1085.0,611.8 L1086.8,614.2 L1088.6,616.6 L1090.4,618.9 L1092.3,621.3 L1094.1,623.6 L1096.0,625.9 L1097.9,628.1 L1099.9,630.4 L1101.8,632.6 L1103.8,634.8 L1105.9,637.0 L1107.9,639.1 L1110.0,641.2 L1112.0,643.3 L1114.2,645.4 L1116.3,647.4 L1118.5,649.4 L1120.7,651.4 L1122.9,653.4 L1125.1,655.3 L1127.4,657.2 L1129.7,659.1 L1132.0,660.9 L1134.3,662.8 L1136.7,664.6 L1139.0,666.4 L1141.4,668.2 L1143.8,670.0 L1146.2,671.7 L1148.6,673.5 L1151.0,675.2 L1153.4,677.0 L1155.9,678.7 L1158.3,680.5 L1160.7,682.2 L1163.1,684.0 L1165.6,685.7 L1168.0,687.4 L1170.5,689.2 L1172.9,690.9 L1175.3,692.6 L1177.8,694.4 L1180.2,696.1 L1182.7,697.8 L1185.1,699.6 L1187.6,701.3 L1190.0,703.0 L1192.5,704.8 L1194.9,706.5 L1197.4,708.2 L1199.8,710.0 L1202.3,711.7 L1204.7,713.4 L1207.2,715.2 L1209.6,716.9 L1212.1,718.6 L1214.5,720.4 L1217.0,722.1 L1219.4,723.8 L1221.9,725.6 L1224.3,727.3 L1226.8,729.1 L1229.2,730.8 L1231.7,732.6 L1234.1,734.3 L1236.6,736.1 L1239.0,737.8 L1241.5,739.6 L1243.9,741.3 L1246.4,743.1 L1248.8,744.9 L1251.2,746.6 L1253.7,748.4 L1256.1,750.2 L1258.5,751.9 L1260.9,753.7 L1263.4,755.5 L1265.8,757.3 L1268.2,759.1 L1270.6,760.9 L1273.0,762.7 L1275.4,764.5 L1277.8,766.3 L1280.2,768.1 L1282.6,769.9 L1285.0,771.7 L1287.4,773.5 L1289.8,775.3 L1292.2,777.2 L1294.6,779.0 L1296.9,780.8 L1299.3,782.7 L1301.7,784.5 L1304.0,786.4 L1306.4,788.2 L1308.7,790.1 L1311.1,792.0 L1313.4,793.8 L1315.8,795.7 L1318.1,797.6 L1320.4,799.5 L1322.7,801.4 L1325.0,803.3 L1327.3,805.2 L1329.6,807.1 L1331.9,809.0 L1334.2,811.0 L1336.5,812.9 L1338.8,814.8 L1341.0,816.8 L1343.3,818.7 L1345.6,820.7 L1347.8,822.7 L1350.0,824.7 L1352.3,826.6 L1354.5,828.6 L1356.7,830.6 L1358.9,832.6 L1361.1,834.7 L1363.3,836.7 L1365.5,838.7 L1367.7,840.8 L1369.9,842.8 L1372.0,844.9 L1374.2,846.9 L1376.3,849.0 L1378.4,851.1 L1380.6,853.2 L1382.7,855.3 L1384.8,857.4 L1386.9,859.5 L1389.0,861.6 L1391.1,863.8 L1393.1,865.9 L1395.2,868.1 L1397.2,870.2 L1399.3,872.4 L1401.3,874.6 L1403.3,876.8 L1405.3,879.0 L1407.3,881.2 L1409.3,883.5 L1411.3,885.7 L1413.3,887.9 L1415.2,890.2 L1417.2,892.5 L1419.1,894.7 L1421.0,897.0 L1423.0,899.3 L1424.9,901.6 L1426.8,903.9 L1428.7,906.3 L1430.6,908.6 L1432.4,910.9 L1434.3,913.2 L1436.2,915.6 L1438.0,917.9 L1439.9,920.3 L1441.8,922.7 L1443.6,925.0 L1445.4,927.4 L1447.3,929.8 L1449.1,932.2 L1450.9,934.6 L1452.7,937.0 L1454.6,939.4 L1456.4,941.8 L1458.2,944.2 L1460.0,946.6 L1461.8,949.0 L1463.6,951.4 L1465.4,953.8 L1467.2,956.2 L1469.0,958.6 L1470.8,961.1 L1472.6,963.5 L1474.4,965.9 L1476.2,968.3 L1478.0,970.7 L1479.8,973.2 L1481.6,975.6 L1483.4,978.0 L1485.2,980.4 L1487.0,982.9 L1488.8,985.3 L1490.6,987.7 L1492.4,990.1 L1494.2,992.5 L1496.0,994.9 L1497.8,997.3 L1499.6,999.7 L1501.4,1002.1 L1503.3,1004.5 L1505.1,1006.9 L1506.9,1009.3 L1508.8,1011.7 L1510.6,1014.1 L1512.5,1016.5 L1514.3,1018.8 L1516.2,1021.2 L1518.1,1023.5 L1519.9,1025.9 L1521.8,1028.2 L1523.7,1030.6 L1525.6,1032.9 L1527.5,1035.2 L1529.4,1037.6 L1531.3,1039.9 L1533.3,1042.2 L1535.2,1044.5 L1537.1,1046.8 L1539.1,1049.1 L1541.0,1051.3 L1543.0,1053.6 L1545.0,1055.8 L1546.9,1058.1 L1548.9,1060.3 L1550.9,1062.6 L1552.9,1064.8 L1554.9,1067.0 L1556.9,1069.2 L1559.0,1071.4 L1561.0,1073.6 L1563.0,1075.7 L1565.1,1077.9 L1567.2,1080.1 L1569.2,1082.2 L1571.3,1084.3 L1573.4,1086.4 L1575.5,1088.6 L1577.6,1090.6 L1579.7,1092.7 L1581.9,1094.8 L1584.0,1096.9 L1586.2,1098.9 L1588.3,1100.9 L1590.5,1103.0 L1592.7,1105.0 L1594.9,1107.0 L1597.1,1109.0 L1599.3,1110.9 L1601.5,1112.9 L1603.8,1114.8 L1606.0,1116.7 L1608.3,1118.7 L1610.5,1120.6 L1612.8,1122.4 L1615.1,1124.3 L1617.4,1126.2 L1619.7,1128.0 L1622.1,1129.8 L1624.4,1131.6 L1626.8,1133.4 L1629.1,1135.2 L1631.5,1137.0 L1633.9,1138.7 L1636.3,1140.4 L1638.7,1142.1 L1641.1,1143.8 L1643.6,1145.5 L1646.0,1147.2 L1648.5,1148.8 L1651.0,1150.4 L1653.5,1152.0 L1656.0,1153.6 L1658.5,1155.2 L1661.1,1156.7 L1663.6,1158.3 L1666.2,1159.8 L1668.8,1161.3 L1671.4,1162.7 L1674.0,1164.2 L1676.6,1165.6 L1679.2,1167.0 L1681.9,1168.4 L1684.5,1169.8 L1687.2,1171.2 L1689.9,1172.5 L1692.6,1173.9 L1695.3,1175.2 L1698.0,1176.5 L1700.8,1177.8 L1703.5,1179.0 L1706.2,1180.3 L1709.0,1181.6 L1711.7,1182.8 L1714.5,1184.0 L1717.3,1185.3 L1720.0,1186.5 L1722.8,1187.7 L1725.6,1188.9 L1728.4,1190.1 L1731.1,1191.3 L1733.9,1192.5 L1736.7,1193.7 L1739.5,1194.9 L1742.3,1196.1 L1745.0,1197.3 L1747.8,1198.5 L1750.6,1199.7 L1753.3,1200.9 L1756.1,1202.1 L1758.8,1203.4 L1761.6,1204.6 L1764.3,1205.8 L1767.1,1207.0 L1769.8,1208.2 L1772.5,1209.5 L1775.3,1210.7 L1778.0,1212.0 L1780.7,1213.2 L1783.4,1214.4 L1786.2,1215.7 L1788.9,1216.9 L1791.6,1218.2 L1794.3,1219.4 L1797.0,1220.7 L1799.7,1221.9 L1802.5,1223.2 L1805.2,1224.4 L1807.9,1225.6 L1810.6,1226.9 L1813.3,1228.1 L1816.0,1229.4 L1818.8,1230.6 L1821.5,1231.8 L1824.2,1233.1 L1826.9,1234.3 L1829.7,1235.5 L1832.4,1236.8 L1835.1,1238.0 L1837.9,1239.2 L1840.6,1240.4 L1843.4,1241.7 L1846.1,1242.9 L1848.9,1244.1 L1851.6,1245.3 L1854.4,1246.5 L1857.1,1247.8 L1859.8,1249.0 L1862.6,1250.2 L1865.3,1251.5 L1868.1,1252.7 L1870.8,1254.0 L1873.5,1255.3 L1876.2,1256.5 L1879.0,1257.8 L1881.7,1259.1 L1884.4,1260.4 L1887.1,1261.7 L1889.8,1263.0 L1892.4,1264.4 L1895.1,1265.7 L1897.8,1267.1 L1900.4,1268.5 L1903.1,1269.9 L1905.7,1271.3 L1908.4,1272.7 L1911.0,1274.1 L1913.6,1275.6 L1916.2,1277.1 L1918.8,1278.6 L1921.4,1280.1 L1923.9,1281.6 L1926.5,1283.1 L1929.1,1284.6 L1931.6,1286.2 L1934.2,1287.7 L1936.7,1289.3 L1939.2,1290.9 L1941.8,1292.5 L1944.3,1294.1 L1946.8,1295.7 L1949.3,1297.4 L1951.8,1299.0 L1954.3,1300.7 L1956.8,1302.3 L1959.2,1304.0 L1961.7,1305.7 L1964.2,1307.4 L1966.6,1309.1 L1969.1,1310.8 L1971.5,1312.5 L1974.0,1314.2 L1976.4,1316.0 L1978.9,1317.7 L1981.3,1319.5 L1983.7,1321.2 L1986.1,1323.0 L1988.6,1324.8 L1991.0,1326.5 L1993.4,1328.3 L1995.8,1330.1 L1998.2,1331.9 L2000.6,1333.7 L2003.0,1335.5 L2005.4,1337.3 L2007.8,1339.1 L2010.2,1340.9 L2012.5,1342.8 L2014.9,1344.6 L2017.3,1346.4 L2019.7,1348.3 L2022.1,1350.1 L2024.5,1351.9 L2026.8,1353.8 L2029.2,1355.6 L2031.6,1357.5 L2033.9,1359.3 L2036.3,1361.2 L2038.7,1363.0 L2041.1,1364.9 L2043.4,1366.7 L2045.8,1368.6 L2048.2,1370.4 L2050.5,1372.3 L2052.9,1374.1 L2055.3,1376.0 L2057.6,1377.8 L2060.0,1379.7 L2062.4,1381.5 L2064.8,1383.4 L2067.1,1385.2 L2069.5,1387.0 L2071.9,1388.9 L2074.3,1390.7 L2076.7,1392.5 L2079.0,1394.4 L2081.4,1396.2 L2083.8,1398.0 L2086.2,1399.8 L2088.6,1401.6 L2091.0,1403.5 L2093.4,1405.3 L2095.8,1407.1 L2098.2,1408.8 L2100.6,1410.6 L2103.1,1412.4 L2105.5,1414.2 L2107.9,1416.0 L2110.3,1417.7 L2112.8,1419.5 L2115.2,1421.2 L2117.6,1422.9 L2120.1,1424.7 L2122.5,1426.4 L2125.0,1428.1 L2127.5,1429.8 L2129.9,1431.5 L2132.4,1433.2 L2134.9,1434.8 L2137.4,1436.5 L2139.9,1438.1 L2142.4,1439.7 L2144.9,1441.3 L2147.4,1442.9 L2150.0,1444.5 L2152.5,1446.1 L2155.0,1447.6 L2157.6,1449.2 L2160.2,1450.7 L2162.7,1452.2 L2165.3,1453.7 L2167.9,1455.1 L2170.5,1456.6 L2173.1,1458.0 L2175.7,1459.4 L2178.4,1460.8 L2181.0,1462.2 L2183.7,1463.6 L2186.3,1464.9 L2189.0,1466.2 L2191.7,1467.5 L2194.4,1468.8 L2197.1,1470.0 L2199.8,1471.3 L2202.5,1472.5 L2205.3,1473.6 L2208.0,1474.8 L2210.8,1475.9 L2213.6,1477.0 L2216.4,1478.1 L2219.2,1479.2 L2222.0,1480.2 L2224.8,1481.3 L2227.6,1482.3 L2230.4,1483.3 L2233.3,1484.2 L2236.1,1485.2 L2239.0,1486.1 L2241.9,1487.0 L2244.8,1487.9 L2247.6,1488.8 L2250.5,1489.7 L2253.4,1490.5 L2256.3,1491.4 L2259.2,1492.2 L2262.2,1493.0 L2265.1,1493.7 L2268.0,1494.5 L2270.9,1495.3 L2273.9,1496.0 L2276.8,1496.7 L2279.8,1497.4 L2282.7,1498.1 L2285.7,1498.8 L2288.6,1499.5 L2291.6,1500.2 L2294.5,1500.8 L2297.5,1501.5 L2300.4,1502.1 L2303.4,1502.7 L2306.4,1503.3 L2309.3,1503.9 L2312.3,1504.5 L2315.3,1505.1 L2318.2,1505.7 L2321.2,1506.2 L2324.2,1506.8 L2327.1,1507.3 L2330.1,1507.9 L2333.1,1508.4 L2336.0,1508.9 L2339.0,1509.4 L2341.9,1510.0 L2344.9,1510.5 L2347.8,1511.0 L2350.8,1511.5 L2353.7,1512.0 L2356.6,1512.5 L2359.6,1512.9 L2362.5,1513.4 L2365.4,1513.9 L2368.3,1514.4 L2371.2,1514.9 L2374.1,1515.3 L2377.0,1515.8 L2379.9,1516.3 L2383.0,1516.8"/>
</g>
<g fill="#FF8000">
<rect x="851.9" y="73.6" width="60.0" height="12.4"/>
<rect x="972.3" y="73.6" width="66.8" height="12.4"/>
<rect x="1099.5" y="73.6" width="66.8" height="12.4"/>
<rect x="1226.7" y="73.6" width="66.8" height="12.4"/>
<rect x="1353.9" y="73.6" width="66.8" height="12.4"/>
<rect x="1481.1" y="73.6" width="66.8" height="12.4"/>
<rect x="1573.4" y="108.5" width="12.4" height="66.8"/>
<rect x="1573.4" y="235.7" width="12.4" height="66.8"/>
<rect x="1573.4" y="362.9" width="12.4" height="66.8"/>
<rect x="1573.4" y="490.1" width="12.4" height="66.8"/>
<rect x="1573.4" y="617.3" width="12.4" height="66.8"/>
<rect x="1573.4" y="744.5" width="12.4" height="66.8"/>
<rect x="1573.4" y="871.7" width="12.4" height="66.8"/>
<rect x="1573.4" y="998.9" width="12.4" height="66.8"/>
<rect x="1573.4" y="1126.1" width="12.4" height="66.8"/>
<rect x="1573.4" y="1253.3" width="12.4" height="66.8"/>
<rect x="1573.4" y="1380.5" width="12.4" height="66.8"/>
<rect x="1573.4" y="1507.7" width="12.4" height="66.8"/>
<rect x="1501.7" y="1617.6" width="66.8" height="12.4"/>
<rect x="1374.5" y="1617.6" width="66.8" height="12.4"/>
<rect x="1247.3" y="1617.6" width="66.8" height="12.4"/>
<rect x="1120.1" y="1617.6" width="66.8" height="12.4"/>
<rect x="992.9" y="1617.6" width="66.8" height="12.4"/>
<rect x="865.7" y="1617.6" width="66.8" height="12.4"/>
<rect x="845.7" y="79.8" width="12.4" height="60.0"/>
<rect x="845.7" y="200.2" width="12.4" height="66.8"/>
<rect x="845.7" y="327.4" width="12.4" height="66.8"/>
<rect x="845.7" y="454.6" width="12.4" height="66.8"/>
<rect x="845.7" y="581.8" width="12.4" height="66.8"/>
<rect x="845.7" y="709.0" width="12.4" height="66.8"/>
<rect x="845.7" y="836.2" width="12.4" height="66.8"/>
<rect x="845.7" y="963.4" width="12.4" height="66.8"/>
<rect x="845.7" y="1090.6" width="12.4" height="66.8"/>
<rect x="845.7" y="1217.8" width="12.4" height="66.8"/>
<rect x="845.7" y="1345.0" width="12.4" height="66.8"/>
<rect x="845.7" y="1472.2" width="12.4" height="66.8"/>
<rect x="845.7" y="1599.4" width="12.4" height="24.4"/>
<rect x="845.7" y="73.6" width="12.4" height="12.4"/>
<rect x="845.7" y="1623.8" width="12.4" height="6.2"/>
</g>
<g font-family="'Liberation Serif', 'Times New Roman', serif" font-weight="bold" font-size="90.5" fill="#000">
<text x="561.5" y="1854.8" text-anchor="middle">100</text>
<text x="1018.1" y="1854.8" text-anchor="middle">200</text>
<text x="1474.6" y="1854.8" text-anchor="middle">300</text>
<text x="1931.1" y="1854.8" text-anchor="middle">400</text>
<text x="2387.6" y="1854.8" text-anchor="middle">500</text>
<text x="229.3" y="1775.5" text-anchor="end">0</text>
<text x="229.3" y="1449.8" text-anchor="end">20</text>
<text x="229.3" y="1124.1" text-anchor="end">40</text>
<text x="229.3" y="798.3" text-anchor="end">60</text>
<text x="229.3" y="472.6" text-anchor="end">80</text>
<text x="229.3" y="146.9" text-anchor="end">100</text>
<text x="1012.9" y="1964.2">Temperature/°C</text>
<text transform="translate(84,890.3) rotate(-90)" text-anchor="middle">Weight/%</text>
<text style="font-kerning:none" x="2008.5" y="189">CA</text>
<text style="font-kerning:none" x="2008.5" y="300.3">PVA</text>
<text style="font-kerning:none" x="2008.5" y="410.9">PVA-<tspan dx="-4.5">CA</tspan></text>
</g>
<g stroke-width="12.3" stroke-linecap="round">
<path stroke="#525252" d="M1787.4,157.7 H1987.5"/>
<path stroke="#EF4040" d="M1787.4,268.9 H1987.5"/>
<path stroke="#1B70E0" d="M1787.4,379.7 H1987.5"/>
</g>
</svg>
</body></html>
